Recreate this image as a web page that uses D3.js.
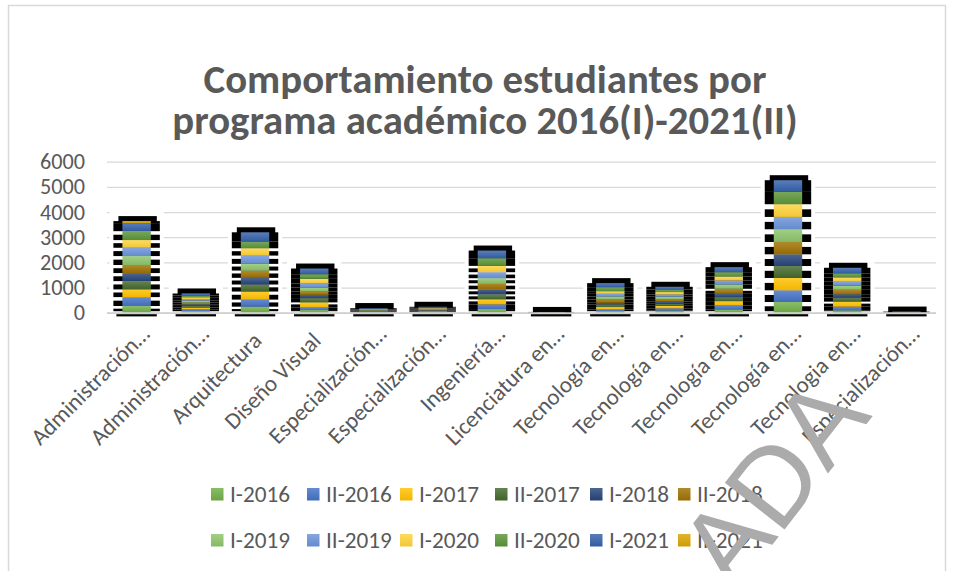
<!DOCTYPE html>
<html lang="es">
<head>
<meta charset="utf-8">
<title>Comportamiento estudiantes por programa académico</title>
<script src="https://d3js.org/d3.v7.min.js"></script>
<style>
  body { margin: 0; background: #fff; }
  svg text { font-family: Carlito, Lato, sans-serif; fill: #595959; }
</style>
</head>
<body>
<script>
// categories (as shown, truncated like the original)
var categories = ["Administración…", "Administración…", "Arquitectura", "Diseño Visual",
  "Especialización…", "Especialización…", "Ingeniería…", "Licenciatura en…",
  "Tecnología en…", "Tecnología en…", "Tecnología en…", "Tecnología en…",
  "Tecnologia en…", "Especialización…"];

var seriesNames = ["I-2016", "II-2016", "I-2017", "II-2017", "I-2018", "II-2018",
  "I-2019", "II-2019", "I-2020", "II-2020", "I-2021", "II-2021"];

var seriesColors = ["#70AD47", "#4472C4", "#FFC000", "#43682B", "#264478", "#9E7000",
  "#8CC46A", "#6A93D8", "#FFD23A", "#5A9438", "#3460AA", "#D9A400"];

// students per period, one array per period, in category order
var i2016  = [265, 65, 240, 105, 15, 20, 145, 2,  65, 85, 130, 425,  95, 4];
var ii2016 = [355, 70, 280, 105, 20, 20, 185, 3,  65, 90, 160, 465, 145, 4];
var i2017  = [305, 70, 320, 200, 15, 20, 200, 3,  95, 100, 170, 490, 200, 4];
var ii2017 = [330, 65, 280, 170, 15, 20, 200, 3, 105, 80, 160, 475, 160, 4];
var i2018  = [320, 65, 265, 130, 15, 20, 200, 3,  65, 95, 130, 465, 135, 4];
var ii2018 = [320, 70, 290, 130, 15, 20, 240, 3, 130, 90, 200, 490, 175, 4];
var i2019  = [355, 75, 265, 160, 15, 25, 200, 3, 120, 95, 170, 505, 160, 4];
var ii2019 = [330, 65, 330, 160, 20, 20, 240, 3, 105, 90, 160, 490, 160, 4];
var i2020  = [305, 70, 290, 185, 15, 20, 250, 3, 105, 95, 160, 505, 175, 4];
var ii2020 = [355, 65, 265, 185, 15, 25, 305, 2, 160, 100, 170, 490, 160, 4];
var i2021  = [320, 75, 370, 225, 25, 25, 305, 2, 160, 110, 200, 465, 220, 5];
var ii2021 = [80, 10, 0, 0, 0, 0, 0, 0, 0, 0, 0, 0, 0, 0];

var yTicks = [0, 1000, 2000, 3000, 4000, 5000, 6000];

var seriesValues = [i2016, ii2016, i2017, ii2017, i2018, ii2018,
  i2019, ii2019, i2020, ii2020, i2021, ii2021];

// table for d3.stack
var table = categories.map(function (c, i) {
  var row = { idx: i };
  seriesNames.forEach(function (s, k) { row[s] = seriesValues[k][i]; });
  return row;
});

var W = 954, H = 571;
var plotLeft = 107, plotRight = 936, plotTop = 161.7, plotBottom = 312.7;

var svg = d3.select("body").append("svg")
  .attr("width", W).attr("height", H);

// font size that makes a sample text a given width
function fitSize(sample, width, weight) {
  var t = svg.append("text").attr("font-size", 20).attr("font-weight", weight || "normal").text(sample);
  var w = t.node().getComputedTextLength();
  t.remove();
  return 20 * width / w;
}

// frame
svg.append("rect")
  .attr("x", 8.5).attr("y", 5.5).attr("width", 937).attr("height", 620)
  .attr("fill", "#fff").attr("stroke", "#d9d9d9").attr("stroke-width", 1.5);

// gradients
var defs = svg.append("defs");
seriesColors.forEach(function (c, k) {
  var g = defs.append("linearGradient").attr("id", "g" + k)
    .attr("x1", 0).attr("y1", 0).attr("x2", 0).attr("y2", 1);
  g.append("stop").attr("offset", "0%").attr("stop-color", d3.interpolateRgb(c, "#fff")(0.18));
  g.append("stop").attr("offset", "100%").attr("stop-color", d3.color(c).darker(0.15));
});

var x = d3.scaleBand()
  .domain(d3.range(categories.length))
  .range([plotLeft, plotRight])
  .paddingInner(0.52).paddingOuter(0.26);

var y = d3.scaleLinear().domain([0, 6000]).range([plotBottom, plotTop]);

// gridlines + y labels
var yFont = fitSize("6000", 45);
var yAxis = svg.append("g")
  .attr("transform", "translate(" + plotLeft + ",0)")
  .call(d3.axisLeft(y).tickValues(yTicks).tickFormat(d3.format("d"))
    .tickSize(-(plotRight - plotLeft)).tickPadding(22));
yAxis.select(".domain").remove();
yAxis.selectAll(".tick line").attr("stroke", "#d9d9d9").attr("stroke-width", 1.3);
yAxis.selectAll(".tick text").attr("font-size", yFont).style("fill", "#595959")
  .style("font-family", "Carlito, Lato, sans-serif");

var stacked = d3.stack().keys(seriesNames)(table);

var bw = x.bandwidth();

// per category: white box, shadow stripes
categories.forEach(function (c, i) {
  var x0 = x(i);
  var segs = stacked.map(function (s) { return s[i]; })
    .filter(function (d) { return d[1] > d[0]; });
  var topY = y(segs[segs.length - 1][1]);

  svg.append("rect")
    .attr("x", x0 - 13).attr("y", topY - 9)
    .attr("width", bw + 26).attr("height", plotBottom - topY + 9)
    .attr("fill", "#fff");

  // black cap above bar
  svg.append("rect")
    .attr("x", x0 - 4).attr("y", topY - 5)
    .attr("width", bw + 10).attr("height", 6)
    .attr("fill", "#000");

  segs.forEach(function (d, j) {
    var y1 = y(d[1]), y0 = y(d[0]);
    var h = y0 - y1;
    var fromTop = segs.length - 1 - j;
    var sy = (fromTop < 2 || h < 5) ? y1 : y1 + h * 0.4;
    svg.append("rect")
      .attr("x", x0 - 9).attr("y", sy)
      .attr("width", bw + 18).attr("height", Math.max(0, y0 - sy - (j === 0 ? 1.5 : 0)))
      .attr("fill", "#000");
  });
});

// bars
svg.append("g").selectAll("g")
  .data(stacked)
  .enter().append("g")
  .attr("fill", function (d, k) { return "url(#g" + k + ")"; })
  .selectAll("rect")
  .data(function (d) { return d; })
  .enter().append("rect")
  .attr("x", function (d) { return x(d.data.idx); })
  .attr("y", function (d) { return y(d[1]); })
  .attr("width", bw)
  .attr("height", function (d) { return y(d[0]) - y(d[1]); });

// category axis line
svg.append("line")
  .attr("x1", plotLeft).attr("x2", plotRight)
  .attr("y1", plotBottom + 0.5).attr("y2", plotBottom + 0.5)
  .attr("stroke", "#cfcfcf").attr("stroke-width", 1.8);

// black underline below each bar
svg.append("g").selectAll("rect")
  .data(categories)
  .enter().append("rect")
  .attr("x", function (d, i) { return x(i) - 6; })
  .attr("y", plotBottom + 1.5)
  .attr("width", bw + 12).attr("height", 2.2)
  .attr("fill", "#000");

// x labels
svg.append("g").selectAll("text")
  .data(categories)
  .enter().append("text")
  .attr("transform", function (d, i) {
    return "translate(" + (x(i) + bw / 2 + 8) + ",342) rotate(-45)";
  })
  .attr("text-anchor", "end")
  .attr("dx", function (d) { return d.slice(-1) === "…" ? 9 : 0; })
  .attr("font-size", 23)
  .text(function (d) { return d; });

// title
var titleLines = ["Comportamiento estudiantes por", "programa académico 2016(I)-2021(II)"];
var titleY = [93, 134];
var fs = fitSize(titleLines[0], 563, "bold");
titleLines.forEach(function (t, k) {
  svg.append("text").attr("font-weight", "bold").attr("font-size", fs)
    .attr("text-anchor", "middle").attr("x", 485).attr("y", titleY[k]).text(t);
});

// legend (two rows of six)
var legendCols = [211, 307, 400, 495, 590, 678];
var legendRows = [494, 540];
var legFont = fitSize("I-2016", 60);
var leg = svg.append("g").selectAll("g")
  .data(seriesNames)
  .enter().append("g")
  .attr("transform", function (d, k) {
    return "translate(" + legendCols[k % 6] + "," + legendRows[Math.floor(k / 6)] + ")";
  });
leg.append("rect").attr("x", 0).attr("y", -6).attr("width", 12.5).attr("height", 12.5)
  .attr("fill", function (d, k) { return "url(#g" + k + ")"; });
leg.append("text").attr("x", 19).attr("y", 8).attr("font-size", legFont)
  .text(function (d) { return d; });

// watermark
svg.append("text")
  .attr("transform", "translate(873,416) rotate(-52)")
  .attr("text-anchor", "end")
  .attr("font-size", 110)
  .style("font-family", "'Liberation Sans', Arial, sans-serif")
  .style("fill", "#ababab")
  .text("ANULADA");
</script>
</body>
</html>
